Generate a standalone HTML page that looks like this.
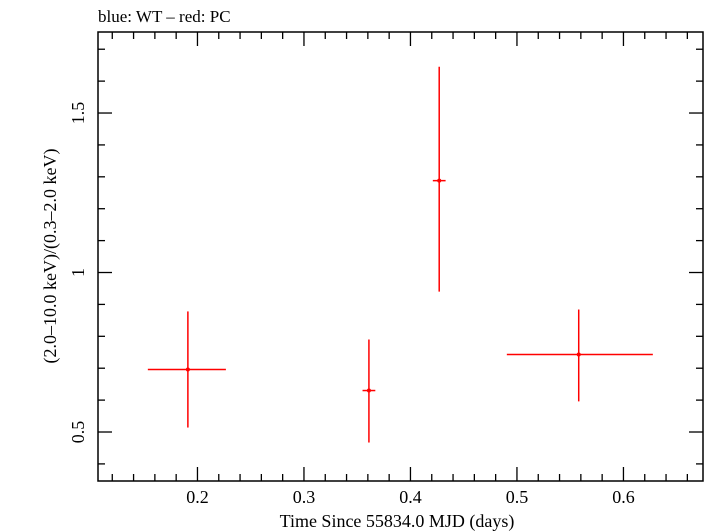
<!DOCTYPE html>
<html><head><meta charset="utf-8"><style>
body{margin:0;background:#fff;}
svg{display:block;font-family:"Liberation Serif",serif;}
</style></head><body>
<svg id="chart" width="705" height="532">
<text x="98" y="22" font-size="17">blue: WT – red: PC</text>
<rect x="98" y="32" width="605" height="449" fill="none" stroke="#000" stroke-width="1.5"/>
<g id="ticks"></g>
<g id="marks"></g>
<text x="397" y="527" font-size="18" text-anchor="middle">Time Since 55834.0 MJD (days)</text>
<text transform="translate(56,256) rotate(-90)" font-size="18" text-anchor="middle">(2.0–10.0 keV)/(0.3–2.0 keV)</text>
</svg>
<script>
const xVals=[0.191,0.361,0.427,0.558];
const xLo=[0.1534,0.355,0.421,0.4905];
const xHi=[0.2267,0.367,0.433,0.6276];
const yVals=[0.696,0.630,1.288,0.743];
const yLo=[0.514,0.467,0.940,0.596];
const yHi=[0.878,0.790,1.645,0.884];
const xTicks=[0.2,0.3,0.4,0.5,0.6];
const xTickLabels=["0.2","0.3","0.4","0.5","0.6"];
const yTicks=[0.5,1,1.5];
const yTickLabels=["0.5","1","1.5"];
const L=98,R=703,T=32,B=481;
const xmin=0.1066,xmax=0.6747,ymin=0.3464,ymax=1.754;
const sx=v=>L+(v-xmin)/(xmax-xmin)*(R-L);
const sy=v=>B-(v-ymin)/(ymax-ymin)*(B-T);
const NS="http://www.w3.org/2000/svg";
const tg=document.getElementById('ticks'),mg=document.getElementById('marks');
function line(g,x1,y1,x2,y2,c,w,name){const l=document.createElementNS(NS,'line');
l.setAttribute('x1',x1);l.setAttribute('y1',y1);l.setAttribute('x2',x2);l.setAttribute('y2',y2);
l.setAttribute('stroke',c);l.setAttribute('stroke-width',w);


g.appendChild(l);}
for(let v=0.12;v<0.68;v+=0.02){const x=sx(v);const maj=Math.abs(v*10-Math.round(v*10))<1e-6;const len=maj?14:7;
line(tg,x,B,x,B-len,'#000',1.3,'x-tick');line(tg,x,T,x,T+len,'#000',1.3,'x-tick');}
for(let v=0.4;v<1.75;v+=0.1){const y=sy(v);const maj=Math.abs(v*2-Math.round(v*2))<1e-6;const len=maj?14:7;
line(tg,L,y,L+len,y,'#000',1.3,'y-tick');line(tg,R,y,R-len,y,'#000',1.3,'y-tick');}
xTicks.forEach((v,i)=>{const t=document.createElementNS(NS,'text');t.setAttribute('x',sx(v));t.setAttribute('y',503);
t.setAttribute('font-size','18');t.setAttribute('text-anchor','middle');t.textContent=xTickLabels[i];


tg.appendChild(t);});
yTicks.forEach((v,i)=>{const t=document.createElementNS(NS,'text');t.setAttribute('transform',`translate(84,${sy(v)}) rotate(-90)`);
t.setAttribute('font-size','18');t.setAttribute('text-anchor','middle');t.textContent=yTickLabels[i];


tg.appendChild(t);});
xVals.forEach((v,i)=>{
line(mg,sx(xLo[i]),sy(yVals[i]),sx(xHi[i]),sy(yVals[i]),'#f00',1.5,'x-error-bar');
line(mg,sx(v),sy(yLo[i]),sx(v),sy(yHi[i]),'#f00',1.5,'y-error-bar');
const c=document.createElementNS(NS,'circle');c.setAttribute('cx',sx(v));c.setAttribute('cy',sy(yVals[i]));c.setAttribute('r',2);c.setAttribute('fill','#f00');


mg.appendChild(c);});
</script>
</body></html>
